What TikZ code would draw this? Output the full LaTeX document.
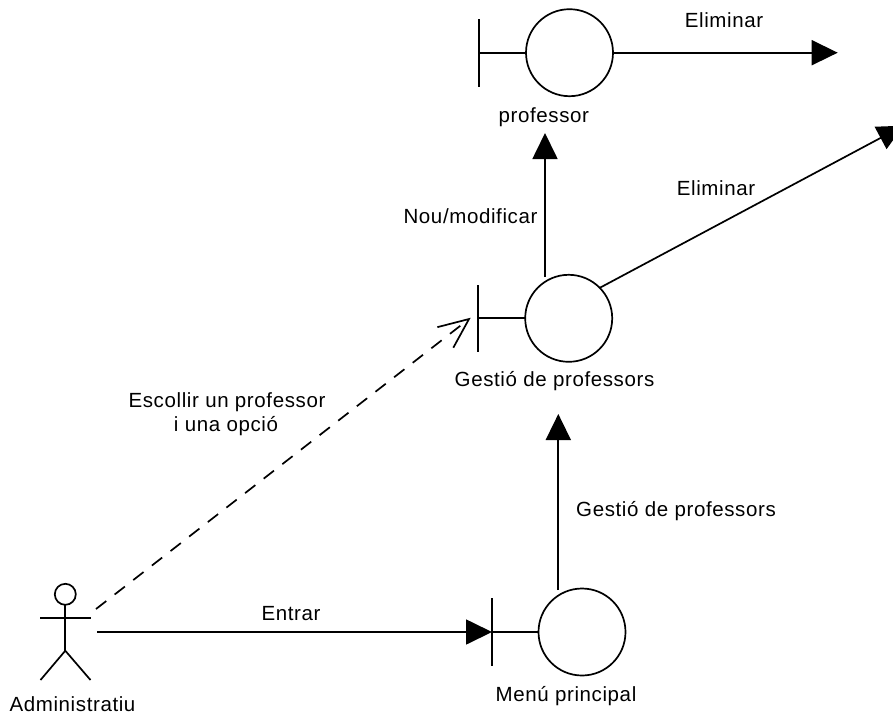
\documentclass[tikz,border=0pt]{standalone}
\usepackage{fontspec}
\setmainfont{Liberation Sans}[LetterSpace=3]
\usetikzlibrary{arrows.meta}
\tikzset{
  ln/.style={line width=1.7pt,black},
  ctrl/.style={circle,draw,line width=1.7pt,minimum size=87pt,inner sep=0pt,outer sep=0pt},
  lab/.style={font=\fontsize{20.5pt}{24pt}\selectfont,anchor=base,inner sep=0pt,outer sep=0pt,text=black},
  solidarrow/.style={ln,-{Triangle[length=26pt,width=25pt,sep=0pt]}},
  openarrow/.style={line width=1.7pt,dash pattern=on 13pt off 10.6pt,-{Straight Barb[length=30pt,width=26pt]}}
}
\begin{document}
\begin{tikzpicture}[x=1pt,y=-1pt]
\clip (0,0) rectangle (893,715);
\fill[white] (0,0) rectangle (893,715);
% professor boundary-control
\node[ctrl] (cp) at (569.5,52.7) {};
\coordinate (bpt) at (479.3,19);
\coordinate (bpm) at (479.3,52.7);
\coordinate (bpb) at (479.3,87);
\draw[ln] (bpt) -- (bpb);
\draw[ln] (bpm) -- (cp.west);
% gestio boundary-control
\node[ctrl] (cg) at (568.7,318.3) {};
\coordinate (bgt) at (478.3,285);
\coordinate (bgm) at (478.3,318.3);
\coordinate (bgb) at (478.3,352);
\draw[ln] (bgt) -- (bgb);
\draw[ln] (bgm) -- (cg.west);
% menu boundary-control
\node[ctrl] (cm) at (582,632) {};
\coordinate (bmt) at (492,598);
\coordinate (bmm) at (492,632);
\coordinate (bmb) at (492,666);
\draw[ln] (bmt) -- (bmb);
\draw[ln] (bmm) -- (cm.west);
% actor
\node[circle,draw,line width=1.7pt,minimum size=21pt,inner sep=0pt,outer sep=0pt] (head) at (65.3,594.3) {};
\coordinate (hip) at (65.3,650.7);
\coordinate (arml) at (40,617.7);
\coordinate (armr) at (90.5,617.7);
\coordinate (legl) at (40.5,680);
\coordinate (legr) at (90.5,680);
\draw[ln] (head.south) -- (hip);
\draw[ln] (arml) -- (armr);
\draw[ln] (legl) -- (hip) -- (legr);
% connectors
\coordinate (e1end) at (837.7,52.7);
\draw[solidarrow] (cp.east) -- (e1end);
\coordinate (nmstart) at (545,277);
\coordinate (nmend) at (545,133);
\draw[solidarrow] (nmstart) -- (nmend);
\coordinate (e2start) at (600,287.7);
\coordinate (e2end) at (903.5,125.7);
\draw[solidarrow] (e2start) -- (e2end);
\coordinate (gpstart) at (558.3,590);
\coordinate (gpend) at (558.3,414);
\draw[solidarrow] (gpstart) -- (gpend);
\coordinate (enstart) at (97,632);
\draw[solidarrow] (enstart) -- (bmm);
\coordinate (dstart) at (96,609);
\coordinate (dend) at (470.7,317.7);
\draw[openarrow] (dstart) -- (dend);
% labels
\node[lab] (l1) at (724,27) {Eliminar};
\node[lab] (l2) at (543.8,122) {professor};
\node[lab] (l3) at (716,195) {Eliminar};
\node[lab] (l4) at (470.5,223.5) {Nou/modificar};
\node[lab] (l5) at (554.5,386.5) {Gestió de professors};
\node[lab] (l6) at (676,516.7) {Gestió de professors};
\node[lab] (l7) at (566,701.7) {Menú principal};
\node[lab] (l8) at (291,620.7) {Entrar};
\node[lab] (l9) at (72.5,711.7) {Administratiu};
\node[lab] (l10) at (227,407.7) {Escollir un professor};
\node[lab] (l11) at (226,431.7) {i una opció};
\end{tikzpicture}
\end{document}
